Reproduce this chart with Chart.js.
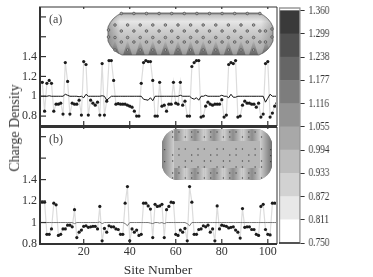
<!DOCTYPE html>
<html>
<head>
<meta charset="utf-8">
<title>Charge density</title>
<script src="https://cdn.jsdelivr.net/npm/chart.js@4"></script>
<style>
    html, body { margin: 0; padding: 0; background: #fff; }
    #page { position: relative; width: 373px; height: 277px; overflow: hidden; font-family: "Liberation Serif", serif; color: #333; }
    .holder { position: absolute; }
    #holderA { left: 0; top: -12px; width: 280px; height: 152px; }
    #holderB { left: 0; top: 115px; width: 280px; height: 155px; }
    #holderBar { left: 279px; top: -12px; height: 274px; transform-origin: left top; transform: scaleX(0.8); width: 117px; }
    #yTitle { position: absolute; left: 15px; top: 128px; font-size: 14px; white-space: nowrap; transform: translate(-50%, -50%) rotate(-90deg); }
    #xTitle { position: absolute; left: 158px; top: 270px; font-size: 13.5px; white-space: nowrap; transform: translate(-50%, -50%); }
</style>
</head>
<body>
<div id="page">
    <div class="holder" id="holderA"><canvas id="chartA"></canvas></div>
    <div class="holder" id="holderB"><canvas id="chartB"></canvas></div>
    <div class="holder" id="holderBar"><canvas id="chartBar"></canvas></div>
    <div id="yTitle">Charge Density</div>
    <div id="xTitle">Site Number</div>
</div>
<script>
const siteTicks = [20, 40, 60, 80, 100];
const densityTicks = [0.8, 1, 1.2, 1.4, 1.6, 1.8];
const densityLabels = [0.8, 1, 1.2, 1.4];

const chargeA = [1.14, 1.14, 0.85, 1.13, 1.16, 1.13, 0.85, 0.92, 0.92, 0.93, 0.82, 1.34, 1.15, 0.82, 0.93, 0.92, 0.92, 0.96, 0.81, 1.35,
    1.32, 0.81, 0.96, 0.93, 0.91, 0.94, 0.81, 1.33, 0.81, 0.95, 1.36, 1.36, 1.16, 0.92, 0.925, 0.92, 0.92, 0.92, 0.91, 0.90,
    0.89, 0.85, 0.80, 0.80, 1.13, 1.34, 1.36, 1.35, 1.35, 1.16, 0.80, 0.80, 1.14, 0.90, 0.91, 0.85, 0.92, 0.92, 1.14, 0.93,
    0.92, 1.14, 0.91, 0.95, 0.80, 0.80, 1.30, 1.34, 1.36, 1.36, 0.79, 0.80, 0.90, 0.94, 0.92, 0.91, 0.92, 0.92, 0.92, 0.965,
    0.79, 0.81, 1.32, 1.34, 1.33, 1.36, 0.79, 0.80, 0.91, 0.95, 0.93, 0.93, 0.92, 0.92, 0.89, 0.93, 0.79, 0.82, 1.33, 1.35,
    0.79, 0.83, 0.90, 0.93];
const nearOneA = [1, 1, 1, 1, 1.005, 1, 1, 1, 1, 1, 1, 1.02, 1.01, 1, 1, 1, 1, 0.995, 1, 0.985,
    1.02, 1, 1, 1, 1, 1, 1, 1.005, 1, 0.96, 0.98, 1, 1, 1, 1, 1, 1, 1, 1, 1,
    1, 1, 1, 1, 1, 0.97, 0.965, 0.96, 0.985, 0.955, 1, 1, 1, 1, 1, 1, 1, 1, 1, 1,
    1, 1.01, 1, 1, 1, 1, 0.98, 0.97, 0.985, 0.96, 1, 1, 1.01, 1, 1, 1, 1, 1, 1, 1.01,
    1, 1, 0.985, 1.02, 0.99, 0.99, 1, 1, 1, 1, 1, 1, 1, 1, 1, 1, 1, 1, 0.94, 0.98,
    1.02, 1, 1, 1];
const chargeB = [1.19, 1.19, 1.19, 0.89, 0.89, 0.94, 1.18, 1.165, 0.88, 0.89, 0.94, 0.94, 0.975, 0.975, 0.96, 1.12, 0.86, 0.91, 0.93, 0.965,
    0.97, 0.955, 0.96, 0.965, 0.965, 0.94, 1.15, 0.83, 0.945, 0.91, 0.97, 0.96, 0.96, 0.94, 0.935, 0.89, 0.89, 1.18, 1.335, 0.83,
    0.94, 0.91, 0.93, 0.88, 0.89, 1.18, 1.18, 1.155, 1.125, 0.86, 1.17, 1.15, 1.155, 1.17, 0.86, 1.12, 1.15, 1.19, 1.185, 0.89,
    0.88, 0.93, 0.91, 0.945, 0.83, 1.335, 1.19, 0.89, 0.89, 0.935, 0.94, 0.97, 0.96, 0.975, 0.91, 0.94, 0.83, 1.155, 0.94, 0.975,
    0.97, 0.965, 0.95, 0.955, 0.96, 0.93, 0.91, 0.855, 1.13, 0.955, 0.96, 0.96, 0.935, 0.935, 0.89, 0.88, 1.15, 1.17, 0.935, 0.89,
    0.885, 1.18, 1.18, 1.18];
const nearOneB = [1, 1, 1, 1, 1, 1, 1, 1, 1, 1, 1, 1, 1, 1, 1, 0.99, 1, 1, 1, 1,
    1, 1, 1, 1, 1, 1, 1.005, 0.99, 1, 1, 1, 1, 1, 1, 1, 1, 1, 0.99, 0.97, 1,
    1, 1, 1, 1, 1, 1, 1, 1, 0.995, 0.99, 1, 1, 0.995, 1, 0.99, 1, 1, 1, 1, 1,
    1, 1, 1, 1, 0.99, 0.97, 1, 1, 1, 1, 1, 1, 1, 1, 1, 1, 1, 1, 1, 1,
    1, 1, 1, 1, 1, 1, 1, 1, 1, 1, 1, 1, 1, 1, 1, 1, 1, 1, 1, 1,
    1, 1, 1, 1];
const barLevels = [0.75, 0.811, 0.872, 0.933, 0.994, 1.055, 1.116, 1.177, 1.238, 1.299, 1.36];
const barColors = ['#ffffff', '#e8e8e8', '#d2d2d2', '#bdbdbd', '#a8a8a8', '#939393', '#7d7d7d', '#666666', '#505050', '#3a3a3a'];

const serif = 'Liberation Serif';

function toPoints(values) {
    return values.map((v, i) => ({ x: i + 1, y: v }));
}

// frame and inward ticks, the plot has no outside tick marks
const framePlugin = {
    id: 'frame',
    afterDatasetsDraw(chart, args, opts) {
        const ctx = chart.ctx;
        const a = chart.chartArea;
        ctx.save();
        ctx.strokeStyle = '#333';
        ctx.lineWidth = 1.2;
        densityTicks.forEach(v => {
            const y = chart.scales.y.getPixelForValue(v);
            ctx.beginPath(); ctx.moveTo(a.left, y); ctx.lineTo(a.left + 6, y); ctx.stroke();
        });
        siteTicks.forEach(v => {
            const x = chart.scales.x.getPixelForValue(v);
            ctx.beginPath(); ctx.moveTo(x, a.bottom); ctx.lineTo(x, a.bottom - 5); ctx.stroke();
            ctx.beginPath(); ctx.moveTo(x, a.top); ctx.lineTo(x, a.top + 2); ctx.stroke();
        });
        ctx.strokeStyle = '#999';
        ctx.lineWidth = 2;
        ctx.beginPath(); ctx.moveTo(a.right, a.top); ctx.lineTo(a.right, a.bottom); ctx.stroke();
        ctx.strokeStyle = '#333';
        ctx.lineWidth = opts.topWidth;
        ctx.beginPath(); ctx.moveTo(a.left - 1, a.top); ctx.lineTo(a.right, a.top); ctx.stroke();
        ctx.lineWidth = 2;
        ctx.beginPath(); ctx.moveTo(a.left, a.top); ctx.lineTo(a.left, a.bottom); ctx.lineTo(a.right, a.bottom); ctx.stroke();
        ctx.fillStyle = '#444';
        ctx.font = '12px "' + serif + '"';
        ctx.textBaseline = 'middle';
        ctx.fillText(opts.tag, a.left + 9, a.top + opts.tagY);
        ctx.translate(0, opts.shift);
        opts.inset(ctx);
        ctx.restore();
    }
};

function roundedPath(ctx, x, y, w, h, r, chamfer) {
    ctx.beginPath();
    ctx.moveTo(x + r, y);
    ctx.lineTo(x + w - r, y);
    ctx.quadraticCurveTo(x + w - chamfer, y + chamfer, x + w, y + r);
    ctx.lineTo(x + w, y + h - r);
    ctx.quadraticCurveTo(x + w - chamfer, y + h - chamfer, x + w - r, y + h);
    ctx.lineTo(x + r, y + h);
    ctx.quadraticCurveTo(x + chamfer, y + h - chamfer, x, y + h - r);
    ctx.lineTo(x, y + r);
    ctx.quadraticCurveTo(x + chamfer, y + chamfer, x + r, y);
    ctx.closePath();
}

// the two tube pictures are decoration, not data
function insetA(ctx) {
    const x = 108, y = 13, w = 165, h = 42;
    ctx.save();
    roundedPath(ctx, x, y, w, h, 14, 4);
    ctx.clip();
    const g = ctx.createLinearGradient(0, y, 0, y + h);
    g.addColorStop(0, '#7a7a7a');
    g.addColorStop(0.06, '#c4c4c4');
    g.addColorStop(0.2, '#e6e6e6');
    g.addColorStop(0.4, '#d0d0d0');
    g.addColorStop(0.65, '#bcbcbc');
    g.addColorStop(0.85, '#b0b0b0');
    g.addColorStop(1, '#989898');
    ctx.fillStyle = g;
    ctx.fillRect(x, y, w, h);
    for (let px = 115; px < 268; px += 12.6) {
        const t = ctx.createLinearGradient(0, y + 27, 0, y + h);
        t.addColorStop(0, 'rgba(80,80,80,0)');
        t.addColorStop(1, 'rgba(70,70,70,0.65)');
        ctx.fillStyle = t;
        ctx.beginPath();
        ctx.moveTo(px, y + 27);
        ctx.lineTo(px + 4.5, y + h);
        ctx.lineTo(px - 4.5, y + h);
        ctx.closePath();
        ctx.fill();
    }
    [[x, x + 12, 0.45], [x + w, x + w - 12, 0.35]].forEach(e => {
        const s = ctx.createLinearGradient(e[0], 0, e[1], 0);
        s.addColorStop(0, 'rgba(90,90,90,' + e[2] + ')');
        s.addColorStop(1, 'rgba(90,90,90,0)');
        ctx.fillStyle = s;
        ctx.fillRect(x, y, w, h);
    });
    ctx.restore();
    ctx.strokeStyle = 'rgba(90,90,90,0.8)';
    ctx.lineWidth = 1;
    roundedPath(ctx, x, y, w, h, 14, 4);
    ctx.stroke();
    const rows = [[13.5, 0], [25, 1], [31, 0], [37.5, 1], [42, 0], [50, 1]];
    const dot = (px, py) => {
        ctx.fillStyle = '#a8a8a8';
        ctx.strokeStyle = '#555';
        ctx.lineWidth = 0.8;
        ctx.beginPath(); ctx.arc(px, py, 1.3, 0, Math.PI * 2); ctx.fill(); ctx.stroke();
    };
    rows.forEach(r => {
        for (let n = 0; n < 12; n++) {
            dot(121.3 + 12.6 * n - r[1] * 6.3, r[0]);
        }
    });
    [[108.5, 30], [108.5, 37], [272, 29], [272, 37], [265.5, 31], [265.5, 42]].forEach(d => dot(d[0], d[1]));
}

function insetB(ctx) {
    const x = 162, y = 129, w = 110, h = 51;
    ctx.save();
    roundedPath(ctx, x, y, w, h, 13, 3);
    ctx.clip();
    ctx.fillStyle = '#a4a4a4';
    ctx.fillRect(x, y, w, h);
    for (let px = 176; px < 270; px += 19) {
        const t = ctx.createLinearGradient(px - 9, 0, px + 9, 0);
        t.addColorStop(0, '#cfcfcf');
        t.addColorStop(0.5, '#8c8c8c');
        t.addColorStop(1, '#cfcfcf');
        ctx.fillStyle = t;
        ctx.fillRect(px - 9.5, y, 19, 13);
        ctx.fillRect(px - 9.5, y + h - 13, 19, 13);
    }
    const side = ctx.createLinearGradient(x, 0, x + 12, 0);
    side.addColorStop(0, '#808080');
    side.addColorStop(1, '#cfcfcf');
    ctx.fillStyle = side;
    ctx.fillRect(x, y, 12, h);
    const side2 = ctx.createLinearGradient(x + w, 0, x + w - 12, 0);
    side2.addColorStop(0, '#707070');
    side2.addColorStop(1, '#d0d0d0');
    ctx.fillStyle = side2;
    ctx.fillRect(x + w - 12, y, 12, h);
    ctx.fillStyle = '#b6b6b6';
    ctx.fillRect(x + 12, y + 12, w - 24, h - 24);
    ctx.restore();
    const rows = [132, 137, 149, 155, 161, 167, 173, 178];
    ctx.fillStyle = '#444';
    rows.forEach((py, i) => {
        for (let n = 0; n < 15; n++) {
            if ((n + i) % 3 === 2) continue;
            ctx.fillRect(172 + n * 6.35, py - 0.6, 1.2, 1.2);
        }
    });
    [[164, 149], [164, 161], [270, 149], [270, 155], [270, 161]].forEach(d => {
        ctx.fillRect(d[0], d[1], 1.2, 1.2);
    });
}

function panel(id, charge, nearOne, nearStyle, yMax, pad, xLabels, frame) {
    new Chart(document.getElementById(id), {
        type: 'scatter',
        data: {
            datasets: [
                {
                    data: toPoints(nearOne),
                    showLine: true,
                    pointRadius: 0,
                    borderColor: nearStyle[0],
                    borderWidth: nearStyle[1]
                },
                {
                    data: toPoints(charge),
                    showLine: true,
                    borderColor: '#dcdcdc',
                    borderWidth: 1.2,
                    pointRadius: 1.6,
                    pointBackgroundColor: '#1c1c1c',
                    pointBorderWidth: 0
                }
            ]
        },
        options: {
            responsive: true,
            maintainAspectRatio: false,
            animation: false,
            layout: { padding: pad, autoPadding: false },
            plugins: { legend: { display: false }, tooltip: { enabled: false }, frame: frame },
            scales: {
                x: {
                    type: 'linear',
                    min: 1,
                    max: 104,
                    afterBuildTicks: s => { s.ticks = siteTicks.map(v => ({ value: v })); },
                    afterFit: s => { s.height = xLabels ? 21 : 0; },
                    grid: { display: false, drawTicks: false },
                    border: { display: false },
                    ticks: { display: xLabels, color: '#333', padding: 1, maxRotation: 0, font: { family: serif, size: 12 } }
                },
                y: {
                    min: frame.yMin,
                    max: yMax,
                    afterBuildTicks: s => { s.ticks = densityTicks.map(v => ({ value: v })); },
                    afterFit: s => { s.width = 40; },
                    grid: { display: false, drawTicks: false },
                    border: { display: false },
                    ticks: {
                        color: '#333',
                        padding: 3,
                        font: { family: serif, size: 12 },
                        callback: v => densityLabels.includes(v) ? String(v) : ''
                    }
                }
            }
        },
        plugins: [framePlugin]
    });
}

panel('chartA', chargeA, nearOneA, ['#111', 1], 1.9, { top: 19, right: 3, bottom: 14 }, false,
    { tag: '(a)', tagY: 13, topWidth: 1, yMin: 0.7, shift: 12, inset: insetA });
panel('chartB', chargeB, nearOneB, ['#666', 0.9], 1.89, { top: 12, right: 3, bottom: 5 }, true,
    { tag: '(b)', tagY: 13, topWidth: 2, yMin: 0.8, shift: -115, inset: insetB });

new Chart(document.getElementById('chartBar'), {
    type: 'bar',
    data: {
        labels: ['levels'],
        datasets: barColors.map((c, i) => ({
            data: [[barLevels[i], barLevels[i + 1]]],
            backgroundColor: c,
            barPercentage: 1,
            categoryPercentage: 1,
            grouped: false
        }))
    },
    options: {
        responsive: true,
        maintainAspectRatio: false,
        animation: false,
        layout: { padding: { top: 20, bottom: 19 }, autoPadding: false },
        plugins: { legend: { display: false }, tooltip: { enabled: false } },
        scales: {
            x: { display: false, grid: { display: false } },
            y: {
                position: 'right',
                min: 0.75,
                max: 1.367,
                afterBuildTicks: s => { s.ticks = barLevels.map(v => ({ value: v })); },
                afterFit: s => { s.width = 91; },
                grid: { drawOnChartArea: false, color: '#333', tickLength: 6, lineWidth: 1 },
                border: { color: '#aaa', width: 1 },
                ticks: {
                    color: '#333',
                    padding: 5,
                    font: { family: serif, size: 11.5 },
                    callback: v => v.toFixed(3)
                }
            }
        }
    },
    plugins: [{
        id: 'barEdge',
        afterDatasetsDraw(chart) {
            const a = chart.chartArea;
            const ctx = chart.ctx;
            ctx.save();
            ctx.strokeStyle = '#999';
            ctx.lineWidth = 1.5;
            ctx.strokeRect(a.left + 0.5, a.top, a.right - a.left - 0.5, a.bottom - a.top);
            ctx.strokeStyle = '#333';
            ctx.beginPath(); ctx.moveTo(a.left, a.bottom); ctx.lineTo(a.right, a.bottom); ctx.stroke();
            ctx.restore();
        }
    }]
});
</script>
</body>
</html>
